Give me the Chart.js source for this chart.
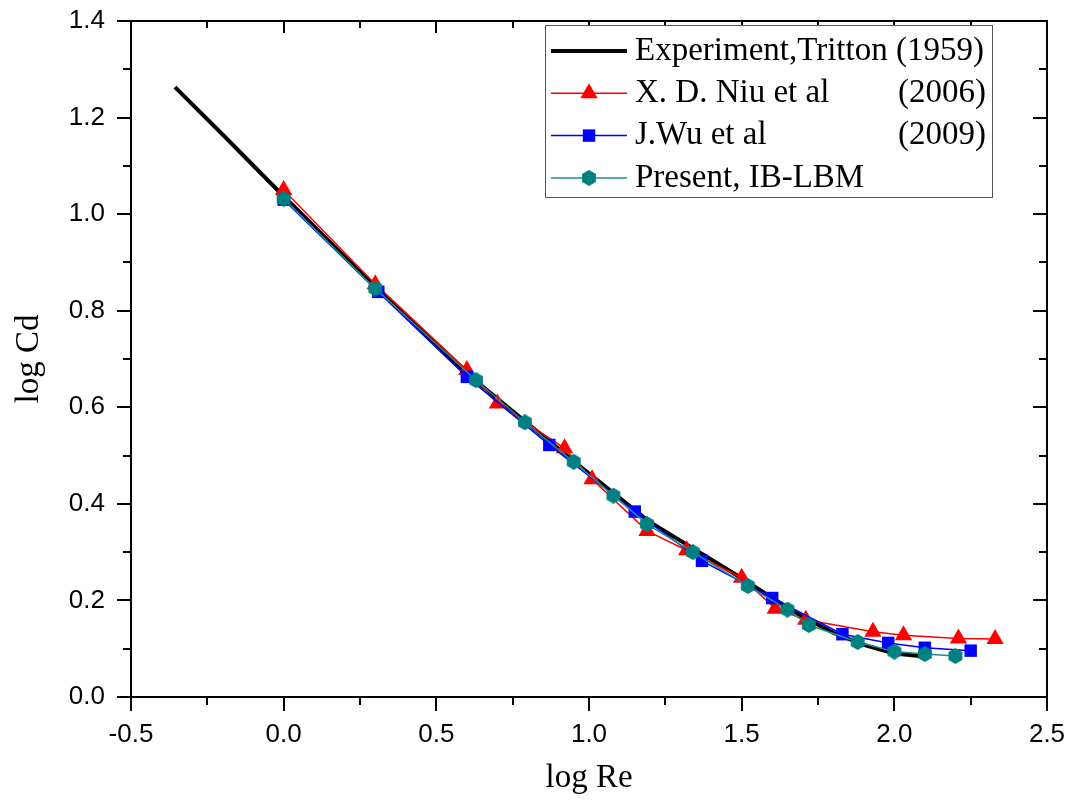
<!DOCTYPE html>
<html>
<head>
<meta charset="utf-8">
<script src="https://cdn.jsdelivr.net/npm/chart.js@4.4.1/dist/chart.umd.min.js"></script>
<style>
  html, body { margin: 0; padding: 0; background: #ffffff; }
  #wrap { width: 1073px; height: 808px; }
</style>
</head>
<body>
<div id="wrap"><canvas id="c" width="1073" height="808"></canvas></div>
<script>
// ---- data ----
const trittonX = [-0.356, -0.2, 0.0, 0.2, 0.4, 0.6, 0.8, 1.0, 1.2, 1.4, 1.5, 1.6, 1.7, 1.8, 1.9, 2.0, 2.1];
const trittonY = [1.263, 1.165, 1.037, 0.912, 0.789, 0.670, 0.566, 0.463, 0.362, 0.285, 0.246, 0.205, 0.166, 0.133, 0.108, 0.090, 0.084];

const niuX = [0.0, 0.30, 0.60, 0.70, 0.92, 1.01, 1.19, 1.32, 1.50, 1.61, 1.71, 1.93, 2.03, 2.21, 2.33];
const niuY = [1.050, 0.855, 0.677, 0.608, 0.515, 0.451, 0.344, 0.304, 0.247, 0.183, 0.160, 0.135, 0.128, 0.121, 0.120];

const wuX = [0.0, 0.31, 0.60, 0.87, 1.15, 1.37, 1.60, 1.83, 1.98, 2.10, 2.25];
const wuY = [1.030, 0.839, 0.663, 0.522, 0.384, 0.282, 0.205, 0.130, 0.112, 0.102, 0.096];

const presentX = [0.0, 0.30, 0.63, 0.79, 0.95, 1.08, 1.19, 1.34, 1.52, 1.65, 1.72, 1.88, 2.00, 2.10, 2.20];
const presentY = [1.032, 0.846, 0.656, 0.569, 0.487, 0.417, 0.358, 0.300, 0.230, 0.181, 0.149, 0.114, 0.094, 0.089, 0.085];

const legendNames = ['Experiment,Tritton (1959)', 'X. D. Niu et al', 'J.Wu et al', 'Present, IB-LBM'];
const legendYears = ['', '(2006)', '(2009)', ''];

const xTitle = 'log Re';
const yTitle = 'log Cd';
const xMin = -0.5, xMax = 2.5, xStep = 0.5;
const yMin = 0.0, yMax = 1.4, yStep = 0.2;

// ---- helpers ----
function pts(xs, ys) { return xs.map((x, i) => ({ x: x, y: ys[i] })); }

function hexagonImage(size, color) {
  const cv = document.createElement('canvas');
  cv.width = size; cv.height = size;
  const g = cv.getContext('2d');
  const r = size / 2, cx = size / 2, cy = size / 2;
  g.beginPath();
  for (let k = 0; k < 6; k++) {
    const a = Math.PI / 6 + k * Math.PI / 3;
    const px = cx + r * Math.cos(a), py = cy + r * Math.sin(a);
    if (k === 0) g.moveTo(px, py); else g.lineTo(px, py);
  }
  g.closePath();
  g.fillStyle = color;
  g.fill();
  return cv;
}
const hexImg = hexagonImage(16, '#008080');

const SERIF = '"Liberation Serif", "Times New Roman", serif';
const SANS = '"Liberation Sans", Arial, sans-serif';

// ---- axes frame and ticks ----
const frameTicks = {
  id: 'frameTicks',
  afterDatasetsDraw(chart) {
    const { ctx, chartArea: a, scales } = chart;
    const xs = scales.x, ys = scales.y;
    ctx.save();
    ctx.strokeStyle = '#000';
    ctx.lineWidth = 2;
    ctx.strokeRect(a.left, a.top, a.right - a.left, a.bottom - a.top);
    ctx.beginPath();
    for (let v = xMin; v <= xMax + 1e-9; v += xStep / 2) {
      const major = Math.abs(Math.round(v / xStep) * xStep - v) < 1e-6;
      const px = Math.round(xs.getPixelForValue(v));
      const lb = major ? 14 : 8;
      const lt = major ? 12 : 7;
      ctx.moveTo(px, a.bottom); ctx.lineTo(px, a.bottom + lb);
      ctx.moveTo(px, a.top); ctx.lineTo(px, a.top + lt);
    }
    for (let v = yMin; v <= yMax + 1e-9; v += yStep / 2) {
      const major = Math.abs(Math.round(v / yStep) * yStep - v) < 1e-6;
      const py = Math.round(ys.getPixelForValue(v));
      const ll = major ? 14 : 8;
      const lr = major ? 14 : 8;
      ctx.moveTo(a.left - ll, py); ctx.lineTo(a.left, py);
      ctx.moveTo(a.right, py); ctx.lineTo(a.right - lr, py);
    }
    ctx.stroke();
    ctx.restore();
  }
};

// ---- legend box drawn from the datasets ----
const boxLegend = {
  id: 'boxLegend',
  afterDraw(chart) {
    const { ctx } = chart;
    const bx = 545, by = 25, bw = 447, bh = 172;
    const rowY0 = 51, rowDy = 42.3;
    const lineX0 = 551, lineX1 = 627, markX = 589, textX = 635, yearX = 986;
    ctx.save();
    ctx.fillStyle = '#fff';
    ctx.fillRect(bx, by, bw, bh);
    ctx.strokeStyle = '#555';
    ctx.lineWidth = 1;
    ctx.strokeRect(bx + 0.5, by + 0.5, bw, bh);
    chart.data.datasets.forEach((ds, i) => {
      const ry = rowY0 + i * rowDy;
      ctx.strokeStyle = ds.borderColor;
      ctx.lineWidth = ds.borderWidth;
      ctx.beginPath();
      ctx.moveTo(lineX0, ry); ctx.lineTo(lineX1, ry);
      ctx.stroke();
      if (ds.pointRadius > 0) {
        ctx.fillStyle = ds.backgroundColor;
        Chart.helpers.drawPoint(ctx, {
          pointStyle: ds.pointStyle, radius: ds.pointRadius, borderWidth: 0, rotation: 0
        }, markX, ry);
      }
      ctx.fillStyle = '#000';
      ctx.font = '33px ' + SERIF;
      ctx.textBaseline = 'middle';
      ctx.textAlign = 'left';
      ctx.fillText(legendNames[i], textX, ry);
      if (legendYears[i]) {
        ctx.textAlign = 'right';
        ctx.fillText(legendYears[i], yearX, ry);
      }
    });
    ctx.restore();
  }
};

const chart = new Chart(document.getElementById('c'), {
  type: 'scatter',
  data: {
    datasets: [
      {
        label: legendNames[0], data: pts(trittonX, trittonY), showLine: true,
        borderColor: '#000000', backgroundColor: '#000000', borderWidth: 4,
        pointRadius: 0, pointHoverRadius: 0, order: 3
      },
      {
        label: legendNames[1], data: pts(niuX, niuY), showLine: true,
        borderColor: '#ff0000', backgroundColor: '#ff0000', borderWidth: 1.5,
        pointStyle: 'triangle', pointRadius: 10, pointBorderWidth: 0, order: 2
      },
      {
        label: legendNames[2], data: pts(wuX, wuY), showLine: true,
        borderColor: '#0000ff', backgroundColor: '#0000ff', borderWidth: 1.5,
        pointStyle: 'rect', pointRadius: 8.8, pointBorderWidth: 0, order: 1
      },
      {
        label: legendNames[3], data: pts(presentX, presentY), showLine: true,
        borderColor: '#1a8f8f', backgroundColor: '#008080', borderWidth: 1.5,
        pointStyle: hexImg, pointRadius: 8, pointBorderWidth: 0, order: 0
      }
    ]
  },
  options: {
    responsive: false,
    animation: false,
    devicePixelRatio: 1,
    layout: { padding: { top: 21, right: 26, left: 0, bottom: 0 } },
    plugins: { legend: { display: false }, tooltip: { enabled: false } },
    elements: { line: { tension: 0 } },
    scales: {
      x: {
        type: 'linear', min: xMin, max: xMax,
        afterFit(s) { s.height = 111; s.paddingLeft = 0; s.paddingRight = 0; },
        border: { display: false },
        grid: { display: true, drawOnChartArea: false, drawTicks: false, color: 'rgba(0,0,0,0)' },
        ticks: {
          stepSize: xStep, padding: 22, color: '#000', maxRotation: 0,
          font: { family: SANS, size: 26 },
          callback: v => Number(v).toFixed(1)
        },
        title: { display: true, text: xTitle, color: '#000', font: { family: SERIF, size: 33 }, padding: { top: 0, bottom: 10 } }
      },
      y: {
        type: 'linear', min: yMin, max: yMax,
        afterFit(s) { s.width = 131; s.paddingTop = 0; s.paddingBottom = 0; },
        border: { display: false },
        grid: { display: true, drawOnChartArea: false, drawTicks: false, color: 'rgba(0,0,0,0)' },
        ticks: {
          stepSize: yStep, padding: 26, color: '#000',
          font: { family: SANS, size: 26 },
          callback: v => Number(v).toFixed(1)
        },
        title: { display: true, text: yTitle, color: '#000', font: { family: SERIF, size: 33 }, padding: { top: 10, bottom: 0 } }
      }
    }
  },
  plugins: [frameTicks, boxLegend]
});
</script>
</body>
</html>
